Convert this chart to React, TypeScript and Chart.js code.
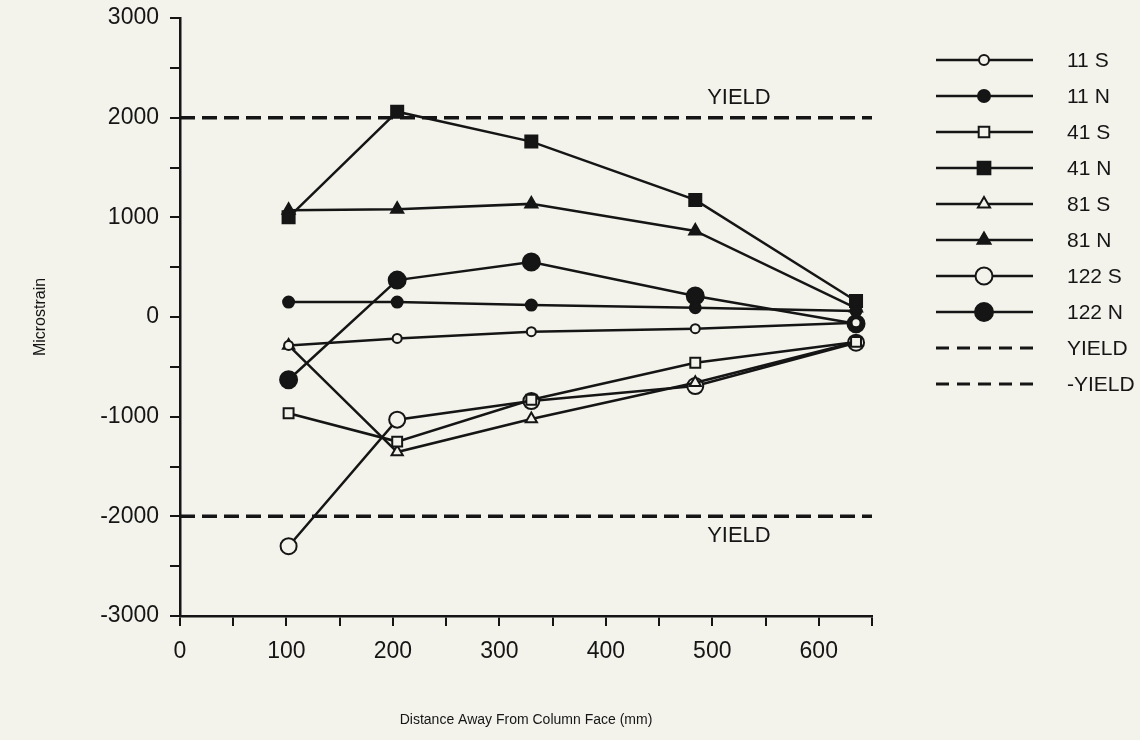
import React, { useEffect, useRef } from 'react';
import { Chart, registerables } from 'chart.js';

Chart.register(...registerables);

// ---------- data ----------
const distances = [102, 204, 330, 484, 635];
const seriesNames = ['11 S', '11 N', '41 S', '41 N', '81 S', '81 N', '122 S', '122 N'];
const strain11S = [-285, -215, -147, -117, -57];
const strain11N = [150, 150, 120, 93, 60];
const strain41S = [-965, -1250, -830, -459, -250];
const strain41N = [1000, 2060, 1760, 1175, 160];
const strain81S = [-285, -1355, -1024, -660, -250];
const strain81N = [1070, 1080, 1135, 863, 90];
const strain122S = [-2300, -1030, -843, -693, -258];
const strain122N = [-630, 370, 552, 211, -67];
const yieldNames = ['YIELD', '-YIELD'];
const yieldLevel = 2000;
const yieldSpan = [0, 650];
const yieldLabelX = 525;
const yieldLabelY = [2200, -2200];
const xMin = 0;
const xMax = 650;
const yMin = -3000;
const yMax = 3000;

const BG = '#f3f3ec';
const INK = '#151515';
const FONT = '"Liberation Sans", Arial, Helvetica, sans-serif';

type Marker = { style: string; r: number; open: boolean };
const markers: Marker[] = [
  { style: 'circle', r: 4.5, open: true },
  { style: 'circle', r: 5.5, open: false },
  { style: 'rect', r: 7, open: true },
  { style: 'rect', r: 8.5, open: false },
  { style: 'triangle', r: 6.5, open: true },
  { style: 'triangle', r: 7, open: false },
  { style: 'circle', r: 8, open: true },
  { style: 'circle', r: 8.5, open: false },
];

const seriesValues = [strain11S, strain11N, strain41S, strain41N, strain81S, strain81N, strain122S, strain122N];

function drawMarker(ctx: CanvasRenderingContext2D, style: string, r: number, x: number, y: number, open: boolean) {
  ctx.save();
  ctx.beginPath();
  if (style === 'circle') {
    ctx.arc(x, y, r, 0, Math.PI * 2);
  } else if (style === 'rect') {
    const s = Math.SQRT1_2 * r;
    ctx.rect(x - s, y - s, 2 * s, 2 * s);
  } else {
    const a = -Math.PI / 2;
    ctx.moveTo(x + Math.cos(a) * r, y + Math.sin(a) * r);
    ctx.lineTo(x + Math.cos(a + (2 * Math.PI) / 3) * r, y + Math.sin(a + (2 * Math.PI) / 3) * r);
    ctx.lineTo(x + Math.cos(a + (4 * Math.PI) / 3) * r, y + Math.sin(a + (4 * Math.PI) / 3) * r);
    ctx.closePath();
  }
  ctx.fillStyle = open ? BG : INK;
  ctx.fill();
  ctx.lineWidth = 2;
  ctx.strokeStyle = INK;
  ctx.stroke();
  ctx.restore();
}

const legendPlugin = {
  id: 'sideLegend',
  afterDraw(chart: any) {
    const ctx: CanvasRenderingContext2D = chart.ctx;
    const x0 = 936;
    const x1 = 1033;
    const xm = 984;
    const tx = 1067;
    const top = 60;
    const step = 36;
    chart.data.datasets.forEach((ds: any, i: number) => {
      const y = top + i * step;
      ctx.save();
      ctx.strokeStyle = INK;
      ctx.lineWidth = ds.legendLineWidth || 2.5;
      ctx.setLineDash(ds.legendDash || []);
      ctx.beginPath();
      ctx.moveTo(x0, y);
      ctx.lineTo(x1, y);
      ctx.stroke();
      ctx.setLineDash([]);
      ctx.restore();
      if (ds.markerStyle) {
        drawMarker(ctx, ds.markerStyle, ds.markerRadius + 0.5, xm, y, ds.markerOpen);
      }
      ctx.save();
      ctx.fillStyle = INK;
      ctx.font = `21px ${FONT}`;
      ctx.textAlign = 'left';
      ctx.textBaseline = 'middle';
      ctx.fillText(ds.label, tx, y + 1);
      ctx.restore();
    });
  },
};

const yieldTextPlugin = {
  id: 'yieldText',
  afterDatasetsDraw(chart: any) {
    const ctx: CanvasRenderingContext2D = chart.ctx;
    const xs = chart.scales.x;
    const ys = chart.scales.y;
    ctx.save();
    ctx.fillStyle = INK;
    ctx.font = `22px ${FONT}`;
    ctx.textAlign = 'center';
    ctx.textBaseline = 'middle';
    yieldLabelY.forEach((v) => {
      ctx.fillText('YIELD', xs.getPixelForValue(yieldLabelX), ys.getPixelForValue(v));
    });
    ctx.restore();
  },
};

export default function App() {
  const ref = useRef<HTMLCanvasElement | null>(null);

  useEffect(() => {
    document.body.style.margin = '0';
    document.body.style.background = BG;
    const canvas = ref.current;
    if (!canvas) return;

    const seriesSets = seriesNames.map((name, i) => {
      const m = markers[i];
      return {
        label: name,
        data: distances.map((d, j) => ({ x: d, y: seriesValues[i][j] })),
        showLine: true,
        borderColor: INK,
        borderWidth: 2.5,
        pointStyle: m.style,
        pointRadius: m.r,
        pointHoverRadius: m.r,
        pointBorderWidth: 2,
        pointBorderColor: INK,
        pointBackgroundColor: m.open ? BG : INK,
        markerStyle: m.style,
        markerRadius: m.r,
        markerOpen: m.open,
        legendLineWidth: 2.5,
      };
    });

    const yieldSets = yieldNames.map((name, i) => ({
      label: name,
      data: yieldSpan.map((x) => ({ x, y: i === 0 ? yieldLevel : -yieldLevel })),
      showLine: true,
      borderColor: INK,
      borderWidth: 3.5,
      borderDash: [15, 7],
      pointRadius: 0,
      pointHoverRadius: 0,
      legendDash: [13, 8],
      legendLineWidth: 3,
    }));

    const chart = new Chart(canvas, {
      type: 'scatter',
      data: { datasets: [...seriesSets, ...yieldSets] as any },
      options: {
        responsive: false,
        animation: false,
        devicePixelRatio: 1,
        layout: { padding: { top: 18, right: 268, left: 0, bottom: 0 } },
        plugins: { legend: { display: false }, tooltip: { enabled: false } },
        scales: {
          x: {
            type: 'linear',
            min: xMin,
            max: xMax,
            afterFit: (s: any) => {
              s.height = 124;
              s.paddingLeft = 0;
              s.paddingRight = 0;
            },
            border: { color: INK, width: 2.5 },
            grid: { drawOnChartArea: false, color: INK, tickLength: 10, lineWidth: 2 },
            ticks: {
              stepSize: 50,
              autoSkip: false,
              maxRotation: 0,
              color: INK,
              padding: 12,
              font: { family: FONT, size: 23 },
              callback: (v: any) => (Number(v) % 100 === 0 && Number(v) <= 600 ? String(v) : ''),
            },
            title: {
              display: true,
              text: 'Distance Away From Column Face (mm)',
              color: INK,
              font: { family: FONT, size: 14 },
              padding: { top: 0, bottom: 11 },
            },
          },
          y: {
            min: yMin,
            max: yMax,
            afterFit: (s: any) => {
              s.width = 180;
              s.paddingTop = 0;
              s.paddingBottom = 0;
            },
            border: { color: INK, width: 2.5 },
            grid: { drawOnChartArea: false, color: INK, tickLength: 10, lineWidth: 2 },
            ticks: {
              stepSize: 500,
              autoSkip: false,
              color: INK,
              padding: 11,
              font: { family: FONT, size: 23 },
              callback: (v: any) => (Number(v) % 1000 === 0 ? String(v) : ''),
            },
            title: {
              display: true,
              text: 'Microstrain',
              color: INK,
              font: { family: FONT, size: 16 },
              padding: { top: 31, bottom: 0 },
            },
          },
        },
      },
      plugins: [legendPlugin, yieldTextPlugin],
    } as any);

    return () => chart.destroy();
  }, []);

  return (
    <div style={{ position: 'fixed', left: 0, top: 0, width: 1140, height: 740, background: BG }}>
      <canvas ref={ref} width={1140} height={740} style={{ display: 'block', width: 1140, height: 740 }} />
    </div>
  );
}
